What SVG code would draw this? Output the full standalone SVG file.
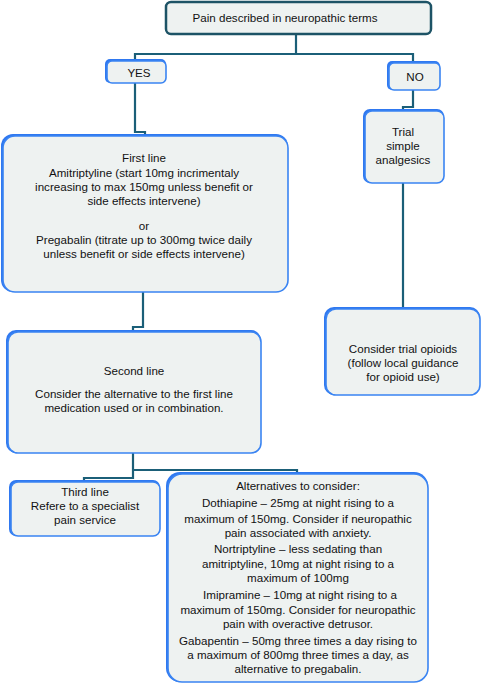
<svg xmlns="http://www.w3.org/2000/svg" width="481" height="684" viewBox="0 0 481 684">
<style>
  .box { fill: #eef2f1; stroke: #3a84f2; stroke-width: 1.6; }
  .shadow { fill: #2f78f0; }
  .top { fill: #eef2f1; stroke: #1d5366; stroke-width: 2.5; }
  .conn { fill: none; stroke: #1b5f78; stroke-width: 2.2; }
  text { font-family: "Liberation Sans", Arial, sans-serif; font-size: 11.6px; fill: #111; text-anchor: middle; }
</style>
<rect width="481" height="684" fill="#ffffff"/>
<g id="connectors">
  <polyline class="conn" points="296,34 296,54"/>
  <polyline class="conn" points="135,62 135,54 413,54 413,64"/>
  <polyline class="conn" points="135,83 135,132 145,132 145,135"/>
  <polyline class="conn" points="413,89 413,107 403,107 403,111"/>
  <polyline class="conn" points="403,183 403,309"/>
  <polyline class="conn" points="143,291 143,327 133,327 133,331"/>
  <polyline class="conn" points="133,453 133,478 84,478 84,482"/>
  <polyline class="conn" points="133,470 297,470 297,474"/>
</g>
<g id="n-pain">
  <rect class="top" x="166" y="2" width="265" height="32" rx="5"/>
  <text x="285" y="22">Pain described in neuropathic terms</text>
</g>
<g id="n-yes">
  <rect class="shadow" x="105" y="59" width="61" height="24" rx="5"/>
  <rect class="box" x="107" y="61" width="59" height="22" rx="5"/>
  <text x="139" y="77">YES</text>
</g>
<g id="n-no">
  <rect class="shadow" x="387" y="61" width="53" height="29" rx="5"/>
  <rect class="box" x="389" y="63" width="51" height="27" rx="5"/>
  <text x="415" y="81">NO</text>
</g>
<g id="n-first">
  <rect class="shadow" x="1" y="134" width="287" height="158" rx="12"/>
  <rect class="box" x="3" y="136" width="285" height="156" rx="12"/>
  <text x="144" y="162">First line</text>
  <text x="144" y="177">Amitriptyline (start 10mg incrimentaly</text>
  <text x="144" y="191">increasing to max 150mg unless benefit or</text>
  <text x="144" y="205">side effects intervene)</text>
  <text x="144" y="230">or</text>
  <text x="144" y="244">Pregabalin (titrate up to 300mg twice daily</text>
  <text x="144" y="258">unless benefit or side effects intervene)</text>
</g>
<g id="n-trial">
  <rect class="shadow" x="363" y="109" width="81" height="74" rx="7"/>
  <rect class="box" x="365" y="111" width="79" height="72" rx="7"/>
  <text x="403" y="136">Trial</text>
  <text x="403" y="150">simple</text>
  <text x="403" y="164">analgesics</text>
</g>
<g id="n-opioids">
  <rect class="shadow" x="324" y="307" width="156" height="88" rx="10"/>
  <rect class="box" x="326" y="309" width="154" height="86" rx="10"/>
  <text x="403" y="353">Consider trial opioids</text>
  <text x="403" y="367">(follow local guidance</text>
  <text x="403" y="381">for opioid use)</text>
</g>
<g id="n-second">
  <rect class="shadow" x="6" y="330" width="255" height="123" rx="10"/>
  <rect class="box" x="8" y="332" width="253" height="121" rx="10"/>
  <text x="134" y="375">Second line</text>
  <text x="134" y="398">Consider the alternative to the first line</text>
  <text x="134" y="412">medication used or in combination.</text>
</g>
<g id="n-third">
  <rect class="shadow" x="9" y="480" width="151" height="56" rx="7"/>
  <rect class="box" x="11" y="482" width="149" height="54" rx="7"/>
  <text x="85" y="496">Third line</text>
  <text x="85" y="510">Refere to a specialist</text>
  <text x="85" y="524">pain service</text>
</g>
<g id="n-alternatives">
  <rect class="shadow" x="166" y="472" width="262" height="210" rx="14"/>
  <rect class="box" x="168" y="474" width="260" height="208" rx="14"/>
  <text x="298" y="490">Alternatives to consider:</text>
  <text x="298" y="507">Dothiapine – 25mg at night rising to a</text>
  <text x="298" y="523">maximum of 150mg. Consider if neuropathic</text>
  <text x="298" y="537">pain associated with anxiety.</text>
  <text x="298" y="553">Nortriptyline – less sedating than</text>
  <text x="298" y="568">amitriptyline, 10mg at night rising to a</text>
  <text x="298" y="582">maximum of 100mg</text>
  <text x="300" y="599">Imipramine – 10mg at night rising to a</text>
  <text x="298" y="614">maximum of 150mg. Consider for neuropathic</text>
  <text x="298" y="628">pain with overactive detrusor.</text>
  <text x="298" y="645">Gabapentin – 50mg three times a day rising to</text>
  <text x="298" y="659">a maximum of 800mg three times a day, as</text>
  <text x="298" y="673">alternative to pregabalin.</text>
</g>
</svg>
